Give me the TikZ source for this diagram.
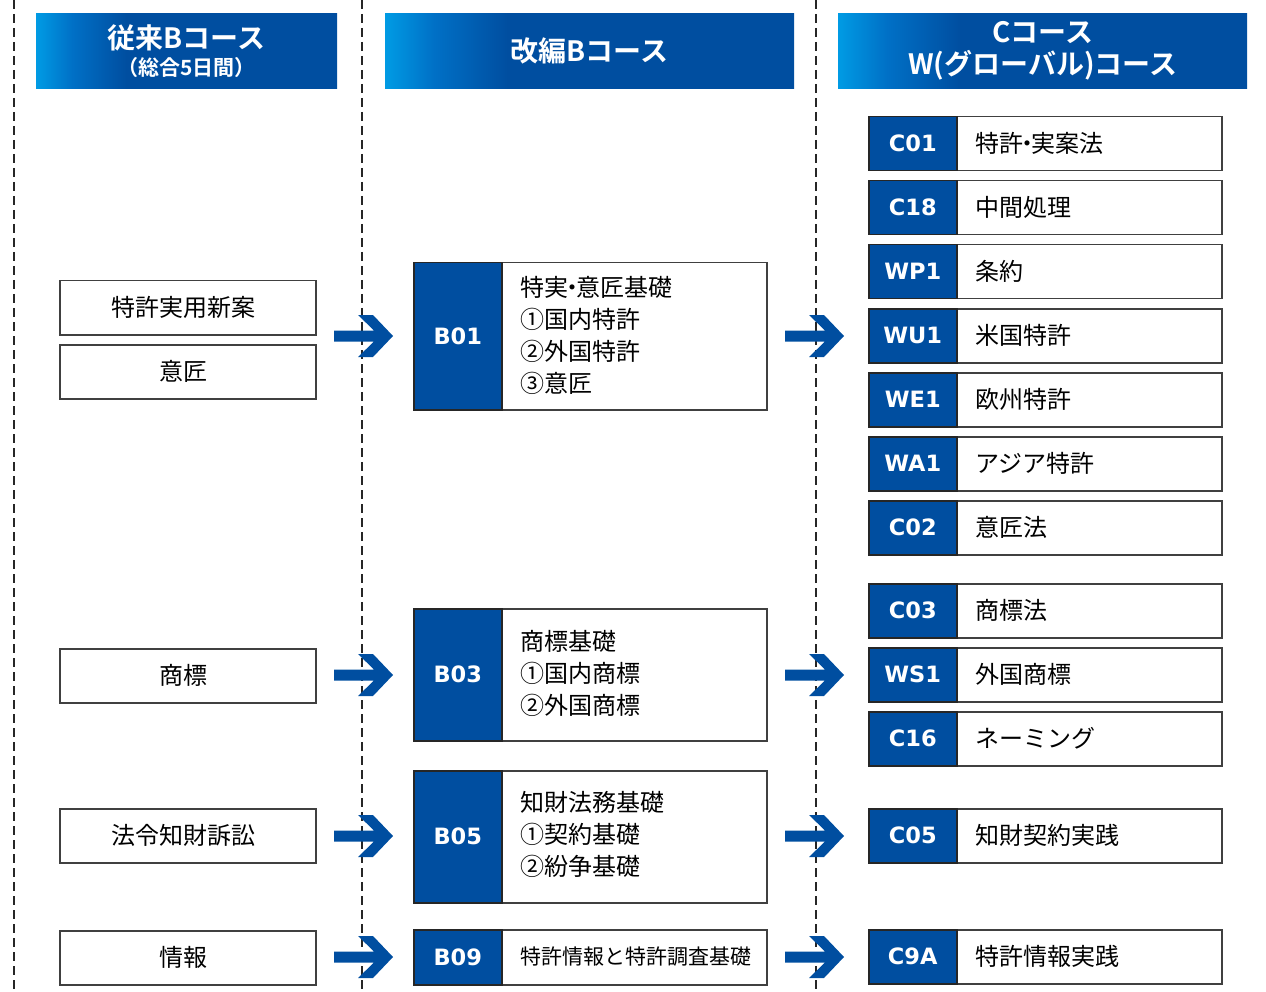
\documentclass[tikz,border=0pt]{standalone}
\usepackage{fontspec}
\setmainfont{Noto Sans CJK JP}
\newfontfamily\jpb{Noto Sans CJK JP Bold}
\newfontfamily\codefont{DejaVu Sans Bold}
\definecolor{mainblue}{RGB}{0,78,160}
\definecolor{lightb}{RGB}{0,155,228}
\definecolor{midb}{RGB}{0,112,198}
\definecolor{bordergray}{RGB}{64,64,64}
\pgfdeclarehorizontalshading{hdrshade}{100bp}{color(0bp)=(lightb); color(25bp)=(lightb); color(31bp)=(midb); color(40bp)=(mainblue); color(100bp)=(mainblue)}
\newcommand{\ndot}{\kern-.32em・\kern-.32em}
\newcommand{\lt}[1]{#1\hspace*{8pt}}
\tikzset{
  hdr/.style={shading=hdrshade, anchor=north west, minimum height=75pt, inner sep=0pt, text=white, align=center, font=\jpb\fontsize{28}{32}\selectfont},
  lbox/.style={draw=bordergray, line width=1.5pt, fill=white, minimum width=256pt, minimum height=54pt, anchor=north west, inner sep=0pt, font=\fontsize{24}{28}\selectfont},
  obox/.style={draw=bordergray, line width=1.5pt, fill=white, anchor=north west, inner sep=0pt},
  codebox/.style={draw=black!85, line width=1.5pt, fill=mainblue, anchor=north west, minimum width=88pt, inner sep=0pt, text=white, font=\codefont\fontsize{22.5}{24}\selectfont},
  itemtext/.style={anchor=west, inner sep=0pt, align=left, font=\fontsize{24}{32}\selectfont},
  divider/.style={line width=1.3pt, dash pattern=on 9pt off 5pt, black!85},
  bigarrow/.pic={\fill[mainblue] (0,-5.5)--(40,-5.5)--(24,-21)--(39,-21)--(59,0)--(39,21)--(24,21)--(40,5.5)--(0,5.5)--cycle;}
}
\newcommand{\rrow}[4]{%
  \node[obox, minimum width=353pt, minimum height=54pt] (#1) at (868,#2) {};
  \node[codebox, minimum height=54pt] (#1c) at (868,#2) {#3};
  \node[itemtext] (#1t) at (975,#2+27) {#4};
}
\begin{document}
\begin{tikzpicture}[x=1pt,y=-1pt]
\useasboundingbox (0,0) rectangle (1266,992);
% dividers
\coordinate (d1a) at (14,0); \coordinate (d1b) at (14,992);
\coordinate (d2a) at (362,0); \coordinate (d2b) at (362,992);
\coordinate (d3a) at (816,0); \coordinate (d3b) at (816,992);
\draw[divider] (d1a) -- (d1b);
\draw[divider] (d2a) -- (d2b);
\draw[divider] (d3a) -- (d3b);
% headers
\node[hdr, minimum width=301pt] (h1) at (36,13) {従来Bコース\\[-5pt]{\fontsize{21}{22}\selectfont （総合5日間）}};
\node[hdr, minimum width=409pt] (h2) at (385,13) {改編Bコース};
\node[hdr, minimum width=409pt] (h3) at (838,13) {Cコース\\W(グローバル)コース};
% left column
\node[lbox] (l1) at (59,280) {\lt{特許実用新案}};
\node[lbox] (l2) at (59,344) {\lt{意匠}};
\node[lbox] (l3) at (59,648) {\lt{商標}};
\node[lbox] (l4) at (59,808) {\lt{法令知財訴訟}};
\node[lbox] (l5) at (59,930) {\lt{情報}};
% middle column
\node[obox, minimum width=353pt, minimum height=147pt] (b01) at (413,262) {};
\node[codebox, minimum height=147pt] (b01c) at (413,262) {B01};
\node[itemtext] (b01t) at (520,335.5) {特実\ndot 意匠基礎\\①国内特許\\②外国特許\\③意匠};
\node[obox, minimum width=353pt, minimum height=132pt] (b03) at (413,608) {};
\node[codebox, minimum height=132pt] (b03c) at (413,608) {B03};
\node[itemtext] (b03t) at (520,673) {商標基礎\\①国内商標\\②外国商標};
\node[obox, minimum width=353pt, minimum height=132pt] (b05) at (413,770) {};
\node[codebox, minimum height=132pt] (b05c) at (413,770) {B05};
\node[itemtext] (b05t) at (520,834) {知財法務基礎\\①契約基礎\\②紛争基礎};
\node[obox, minimum width=353pt, minimum height=55pt] (b09) at (413,929) {};
\node[codebox, minimum height=55pt] (b09c) at (413,929) {B09};
\node[itemtext, font=\fontsize{21}{28}\selectfont] (b09t) at (520,957) {特許情報と特許調査基礎};
% right column
\rrow{c01}{116}{C01}{特許\ndot 実案法}
\rrow{c18}{180}{C18}{中間処理}
\rrow{wp1}{244}{WP1}{条約}
\rrow{wu1}{308}{WU1}{米国特許}
\rrow{we1}{372}{WE1}{欧州特許}
\rrow{wa1}{436}{WA1}{アジア特許}
\rrow{c02}{500}{C02}{意匠法}
\rrow{c03}{583}{C03}{商標法}
\rrow{ws1}{647}{WS1}{外国商標}
\rrow{c16}{711}{C16}{ネーミング}
\rrow{c05}{808}{C05}{知財契約実践}
\rrow{c9a}{929}{C9A}{特許情報実践}
% arrows
\foreach \yy in {336,675,836,957} {
  \pic at (334,\yy) {bigarrow};
  \pic at (785,\yy) {bigarrow};
}
\end{tikzpicture}
\end{document}
